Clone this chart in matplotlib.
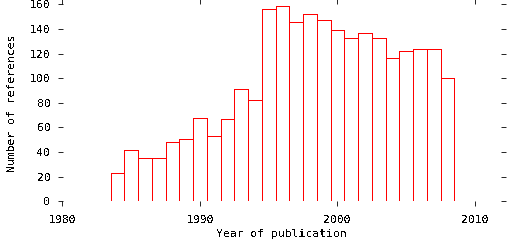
import matplotlib
matplotlib.use("Agg")
import matplotlib.pyplot as plt

# references per year of publication (zero bins at both ends close the baseline)
years = list(range(1983, 2010))
counts = [0, 23, 42, 35, 35, 48, 51, 68, 53, 67, 91, 82,
          156, 159, 146, 152, 147, 139, 133, 137, 133, 116, 122, 124, 124, 100, 0]

x_ticks = [1980, 1990, 2000, 2010]
y_ticks = [0, 20, 40, 60, 80, 100, 120, 140, 160]

plt.rcParams['font.family'] = ['DejaVu Sans Mono']
plt.rcParams['font.size'] = 8.2
plt.rcParams['text.antialiased'] = False
plt.rcParams['lines.antialiased'] = False
plt.rcParams['patch.antialiased'] = False

fig = plt.figure(figsize=(5.12, 2.4), dpi=100)
ax = fig.add_axes([62.5 / 512, 1 - 201.3 / 240, (501 - 62.5) / 512, (201.3 - 4.3) / 240])

ax.bar(years, counts, width=1.0, fill=False, edgecolor='red', linewidth=0.6)

ax.set_xlim(1980, 2011.9)
ax.set_ylim(0, 160)
ax.set_xticks(x_ticks)
ax.set_yticks(y_ticks)

for side in ['left', 'right', 'top', 'bottom']:
    ax.spines[side].set_visible(False)

ax.tick_params(direction='out', length=3.6, width=0.6, color='black',
               top=True, right=True, labeltop=False, labelright=False)
ax.tick_params(axis='x', pad=6.0)
ax.tick_params(axis='y', pad=5.0)

ax.set_xlabel("Year of publication", labelpad=3)
ax.set_ylabel("Number of references", labelpad=9)

fig.savefig("out.png", dpi=100)
